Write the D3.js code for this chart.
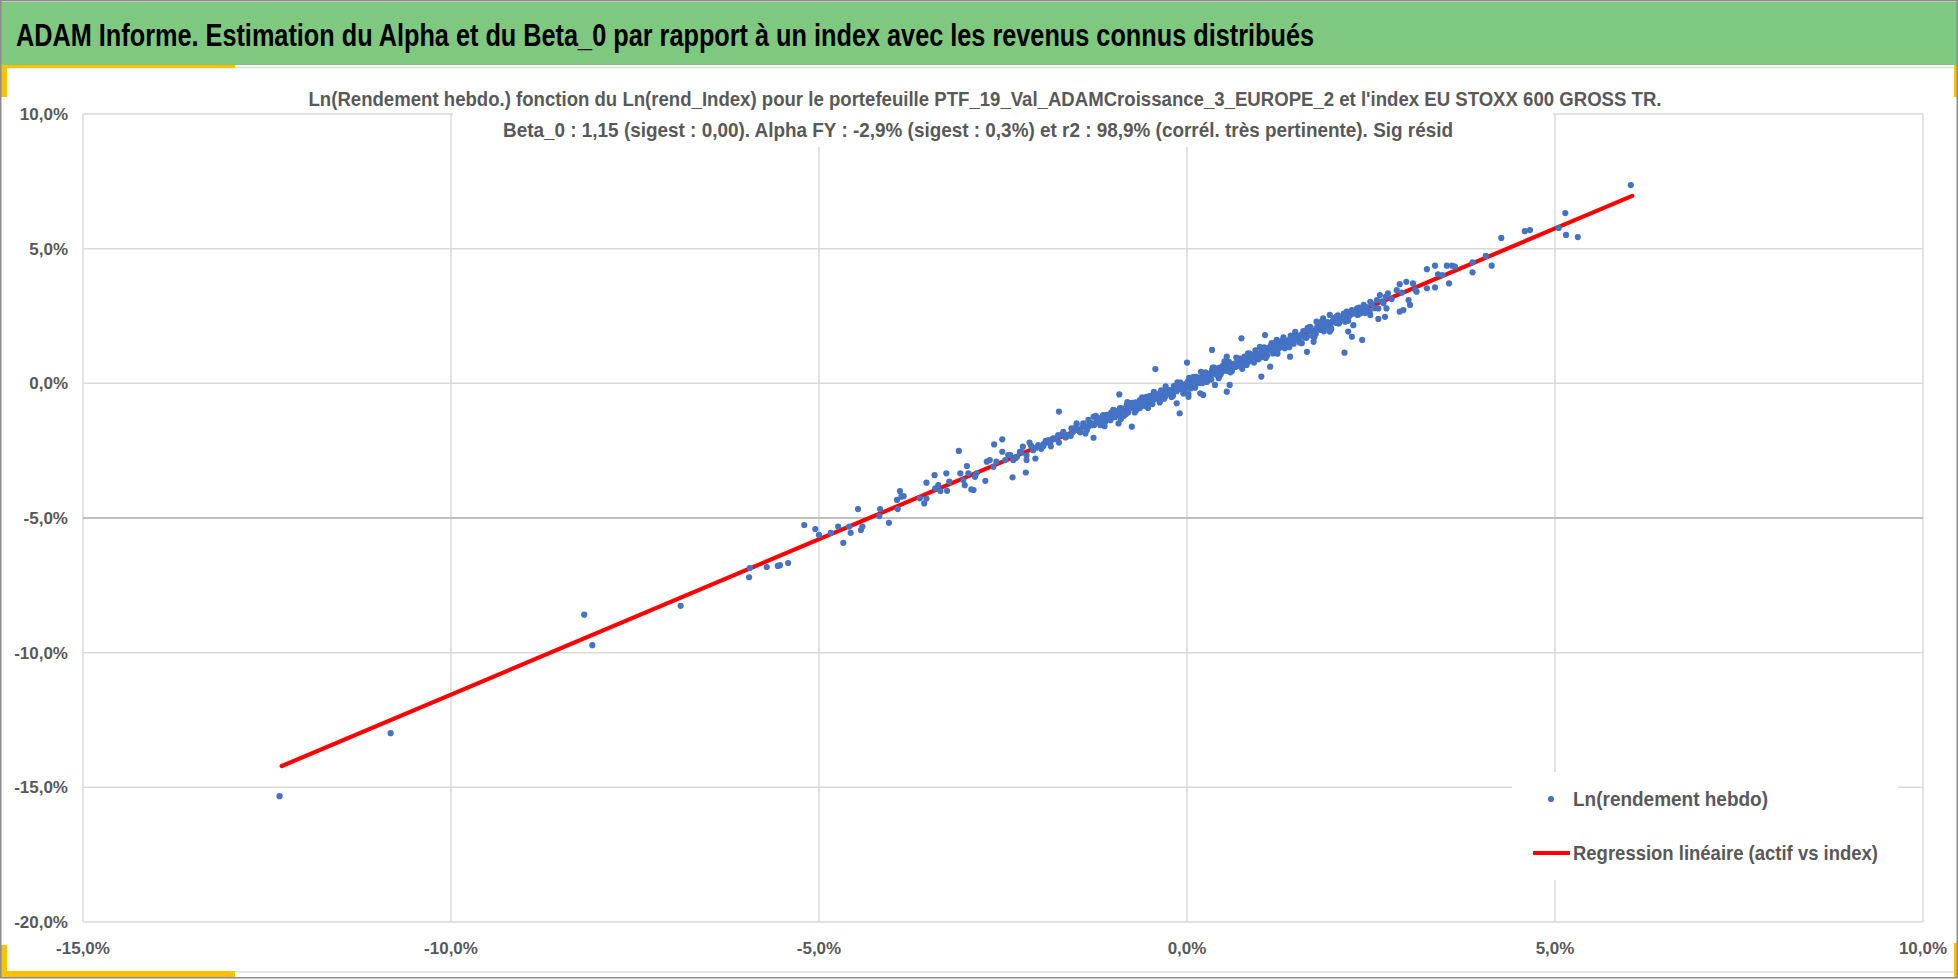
<!DOCTYPE html>
<html>
<head>
<meta charset="utf-8">
<script src="https://cdnjs.cloudflare.com/ajax/libs/d3/7.8.5/d3.min.js"></script>
<style>
  body { margin: 0; background: #fff; }
  svg { display: block; }
  svg text { font-family: "Liberation Sans Narrow", "Liberation Sans", Arial, sans-serif; }
</style>
</head>
<body>
<div id="chart"></div>
<script>
// ----- texts -----
var chartTitle = "ADAM Informe. Estimation du Alpha et du Beta_0 par rapport à un index avec les revenus connus distribués";
var subtitleLines = [
  "Ln(Rendement hebdo.) fonction du Ln(rend_Index) pour le portefeuille PTF_19_Val_ADAMCroissance_3_EUROPE_2 et l'index EU STOXX 600 GROSS TR.",
  "Beta_0 : 1,15 (sigest : 0,00). Alpha FY : -2,9% (sigest : 0,3%) et r2 : 98,9% (corrél. très pertinente). Sig résid"
];
var legendLabels = ["Ln(rendement hebdo)", "Regression linéaire (actif vs index)"];

// ----- axes (in %) -----
var xTicks = [-15, -10, -5, 0, 5, 10];
var yTicks = [10, 5, 0, -5, -10, -15, -20];

// ----- weekly log returns, [index %, portfolio %] -----
var tailPoints = [
  [-12.33, -15.33], [-10.82, -12.99], [-8.19, -8.59], [-8.08, -9.72], [-6.88, -8.26],
  [-5.95, -7.20], [-5.94, -6.86], [-5.71, -6.82], [-5.56, -6.78], [-5.53, -6.75], [-5.42, -6.67],
  [6.03, 7.36], [5.14, 6.32], [5.15, 5.51], [5.31, 5.43], [5.05, 5.77], [4.59, 5.65], [4.66, 5.69], [4.27, 5.40]
];

var lowerPoints = [
  [-5.20, -5.26], [-5.05, -5.41], [-5.00, -5.63], [-4.84, -5.55], [-4.74, -5.32], [-4.67, -5.92],
  [-4.59, -5.32], [-4.57, -5.55], [-4.47, -4.67], [-4.43, -5.45], [-4.41, -5.32], [-4.18, -4.93],
  [-4.17, -4.67], [-4.05, -5.18], [-3.94, -4.33], [-3.93, -4.67], [-3.90, -4.00], [-3.88, -4.21],
  [-3.85, -4.19], [-3.63, -4.27], [-3.57, -4.46], [-3.54, -4.28], [-3.54, -3.69], [-3.43, -3.41],
  [-3.42, -3.90], [-3.38, -3.78], [-3.35, -4.00], [-3.27, -3.34], [-3.26, -3.99], [-3.23, -3.65],
  [-3.10, -2.51], [-3.08, -3.34], [-3.04, -3.59], [-3.02, -3.78], [-2.99, -3.07], [-2.97, -3.34],
  [-2.93, -3.94], [-2.90, -3.96], [-2.88, -3.47], [-2.86, -3.34], [-2.74, -3.62], [-2.72, -2.91],
  [-2.68, -2.85], [-2.62, -2.27], [-2.63, -3.10], [-2.59, -2.91], [-2.51, -2.08], [-2.51, -2.54],
  [-2.47, -2.85], [-2.43, -2.66], [-2.37, -3.49], [-2.36, -2.85], [-2.31, -2.73], [-2.27, -2.54],
  [-2.23, -2.35], [-2.19, -3.31], [-2.18, -2.85], [-2.14, -2.20], [-2.09, -2.48], [-2.06, -2.79],
  [-2.02, -2.29], [-1.95, -2.33], [-1.88, -2.11], [-1.82, -2.04], [-1.74, -1.05], [-1.75, -1.92],
  [-1.68, -1.80], [-1.64, -1.98], [-1.57, -1.67], [-1.50, -1.49], [-1.45, -1.80], [-1.41, -1.49],
  [-1.34, -1.36], [-1.27, -2.02], [-1.27, -1.24], [-1.20, -1.43], [-1.14, -1.18], [-1.07, -1.30],
  [-1.00, -0.99], [-0.93, -1.49], [-0.92, -0.41], [-0.89, -0.93], [-0.82, -0.81], [-0.75, -1.61],
  [-0.73, -0.74], [-0.64, -0.62], [-0.55, -0.50], [-0.46, -0.43], [-0.37, -0.37], [-0.28, -0.31],
  [-0.19, -0.25], [-0.10, -1.11], [-0.14, -0.74], [0.02, -0.40]
];

var upperPoints = [
  [-0.43, 0.53], [0.00, 0.77], [0.02, -0.50], [0.18, -0.37], [0.22, -0.43], [0.38, -0.06],
  [0.34, 1.24], [0.54, -0.31], [0.58, -0.06], [0.54, 0.99], [0.74, 1.67], [1.01, 0.25],
  [1.13, 0.62], [1.06, 1.79], [1.22, 1.61], [1.31, 1.36], [1.40, 0.99], [1.63, 1.17],
  [1.72, 1.54], [1.63, 1.98], [1.67, 2.10], [1.76, 2.29], [1.85, 2.41], [1.94, 2.54],
  [2.03, 2.47], [2.14, 1.14], [2.17, 2.66], [2.24, 2.72], [2.21, 2.54], [2.19, 1.92],
  [2.24, 1.73], [2.26, 2.16], [2.38, 1.61], [2.31, 2.78], [2.40, 2.91], [2.49, 3.03],
  [2.49, 2.54], [2.60, 2.39], [2.58, 3.09], [2.62, 3.28], [2.67, 2.97], [2.69, 2.47],
  [2.71, 2.78], [2.73, 3.34], [2.85, 3.46], [2.89, 3.68], [2.89, 2.66], [2.94, 2.72],
  [2.98, 3.77], [3.01, 3.09], [3.03, 2.91], [3.07, 3.71], [3.12, 3.40], [3.26, 3.53],
  [3.26, 4.24], [3.37, 3.56], [3.37, 4.37], [3.41, 4.05], [3.47, 4.02], [3.53, 4.37],
  [3.56, 3.71], [3.60, 4.37], [3.64, 4.33], [3.88, 4.49], [3.88, 4.12], [4.06, 4.73], [4.14, 4.37]
];

var bandPointsA = [
  [-2.40, -2.66], [-2.33, -2.78], [-2.25, -2.56], [-2.18, -2.68], [-2.12, -2.31], [-2.05, -2.39],
  [-1.98, -2.43], [-1.92, -2.14], [-1.86, -2.23], [-1.80, -2.06], [-1.74, -2.20], [-1.69, -1.89],
  [-1.63, -1.92], [-1.58, -1.95], [-1.52, -1.66], [-1.47, -1.76], [-1.42, -1.63], [-1.36, -1.73],
  [-1.31, -1.47], [-1.26, -1.55], [-1.21, -1.28], [-1.16, -1.37], [-1.11, -1.43], [-1.06, -1.20],
  [-1.01, -1.24], [-0.96, -1.03], [-0.92, -1.18], [-0.87, -1.02], [-0.83, -1.14], [-0.78, -0.85],
  [-0.74, -0.91], [-0.70, -0.71], [-0.66, -0.90], [-0.62, -0.71], [-0.58, -0.76], [-0.54, -0.56],
  [-0.50, -0.75], [-0.46, -0.56], [-0.42, -0.40], [-0.38, -0.55], [-0.34, -0.36], [-0.30, -0.51],
  [-0.26, -0.31], [-0.22, -0.32], [-0.18, -0.10], [-0.14, -0.29], [-0.10, -0.11], [-0.06, -0.25],
  [-0.02, -0.04], [0.02, -0.08], [0.06, 0.14], [0.10, -0.02], [0.14, 0.15], [0.18, 0.02],
  [0.22, 0.29], [0.26, 0.25], [0.30, 0.23], [0.34, 0.49], [0.38, 0.36], [0.42, 0.50],
  [0.46, 0.36], [0.50, 0.55], [0.54, 0.70], [0.58, 0.56], [0.62, 0.71], [0.66, 0.61],
  [0.70, 0.86], [0.74, 0.78], [0.78, 0.99], [0.82, 0.81], [0.86, 0.97], [0.90, 0.86],
  [0.94, 1.11], [0.98, 1.04], [1.02, 1.23], [1.06, 1.08], [1.10, 1.27], [1.14, 1.25],
  [1.18, 1.47], [1.22, 1.24], [1.26, 1.44], [1.30, 1.39], [1.34, 1.58], [1.38, 1.40],
  [1.42, 1.60], [1.46, 1.75], [1.50, 1.63], [1.55, 1.80], [1.60, 1.70], [1.65, 1.98],
  [1.70, 1.91], [1.75, 1.84], [1.80, 2.08], [1.85, 2.05], [1.90, 2.24], [1.95, 2.12],
  [2.00, 2.29], [2.06, 2.22], [2.12, 2.47], [2.18, 2.44], [2.25, 2.66], [2.32, 2.54],
  [2.40, 2.76], [2.48, 2.67]
];

var bandPointsB = [
  [-1.95, -2.26], [-1.85, -2.34], [-1.75, -1.97], [-1.65, -2.01], [-1.55, -1.81], [-1.45, -1.82],
  [-1.40, -1.55], [-1.33, -1.58], [-1.28, -1.55], [-1.23, -1.41], [-1.18, -1.55], [-1.13, -1.27],
  [-1.08, -1.34], [-1.03, -1.09], [-0.98, -1.26], [-0.94, -1.12], [-0.89, -0.98], [-0.85, -1.07],
  [-0.80, -1.08], [-0.76, -0.86], [-0.72, -0.90], [-0.68, -0.79], [-0.64, -0.92], [-0.60, -0.66],
  [-0.56, -0.69], [-0.52, -0.72], [-0.48, -0.50], [-0.44, -0.59], [-0.40, -0.46], [-0.36, -0.61],
  [-0.32, -0.30], [-0.28, -0.41], [-0.24, -0.26], [-0.20, -0.37], [-0.16, -0.21], [-0.12, -0.09],
  [-0.08, -0.20], [-0.04, -0.05], [0.00, -0.15], [0.04, 0.08], [0.08, 0.01], [0.12, 0.24],
  [0.16, 0.07], [0.20, 0.21], [0.24, 0.11], [0.28, 0.36], [0.32, 0.30], [0.36, 0.41],
  [0.40, 0.32], [0.44, 0.58], [0.48, 0.45], [0.52, 0.57], [0.56, 0.46], [0.60, 0.71],
  [0.64, 0.70], [0.68, 0.65], [0.72, 0.92], [0.76, 0.78], [0.80, 0.93], [0.84, 0.81],
  [0.88, 1.05], [0.92, 1.00], [0.96, 1.09], [1.00, 0.96], [1.04, 1.25], [1.08, 1.16],
  [1.12, 1.31], [1.16, 1.20], [1.20, 1.35], [1.24, 1.51], [1.28, 1.37], [1.32, 1.52],
  [1.36, 1.41], [1.40, 1.65], [1.44, 1.59], [1.48, 1.80], [1.52, 1.63], [1.57, 1.79],
  [1.62, 1.69], [1.67, 1.95], [1.72, 1.89], [1.77, 2.10], [1.82, 1.98], [1.88, 2.12],
  [1.93, 2.06], [1.98, 2.32], [2.03, 2.24], [2.09, 2.40], [2.15, 2.29], [2.21, 2.51],
  [2.28, 2.67], [2.36, 2.60], [2.44, 2.83], [2.55, 2.79], [2.65, 3.04], [2.78, 3.13],
  [2.92, 3.37], [3.10, 3.47]
];

var bandPointsC = [
  [-1.50, -1.54], [-1.38, -1.86], [-1.24, -1.21], [-1.12, -1.59], [-1.00, -0.98], [-0.90, -1.33],
  [-0.81, -0.70], [-0.71, -1.08], [-0.61, -0.52], [-0.53, -0.92], [-0.45, -0.32], [-0.37, -0.71],
  [-0.29, -0.11], [-0.21, -0.51], [-0.13, 0.04], [-0.05, -0.38], [0.03, 0.20], [0.11, -0.16],
  [0.19, 0.43], [0.27, 0.05], [0.35, 0.58], [0.43, 0.19], [0.51, 0.82], [0.59, 0.41],
  [0.67, 0.96], [0.75, 0.54], [0.83, 1.11], [0.91, 0.77], [0.99, 1.35], [1.07, 0.94],
  [1.15, 1.49], [1.23, 1.10], [1.31, 1.71], [1.39, 1.34], [1.47, 1.91], [1.56, 1.49],
  [1.64, 2.06], [1.73, 1.71], [1.83, 2.29], [1.94, 1.92], [2.05, 2.52]
];

var bandPointsD = [
  [-1.22, -1.39], [-1.17, -1.46], [-1.09, -1.17], [-1.04, -1.37], [-0.97, -1.13], [-0.91, -0.92],
  [-0.86, -1.21], [-0.79, -0.95], [-0.75, -0.72], [-0.69, -1.00], [-0.63, -0.70], [-0.57, -0.84],
  [-0.51, -0.47], [-0.47, -0.77], [-0.41, -0.53], [-0.35, -0.26], [-0.31, -0.57], [-0.25, -0.25],
  [-0.19, -0.46], [-0.15, -0.19], [-0.09, 0.03], [-0.03, -0.25], [0.01, 0.06], [0.05, -0.19],
  [0.09, 0.24], [0.13, -0.02], [0.17, 0.21], [0.21, 0.01], [0.25, 0.41], [0.29, 0.24],
  [0.33, 0.14], [0.37, 0.58], [0.41, 0.43], [0.45, 0.30], [0.49, 0.67], [0.53, 0.47],
  [0.57, 0.80], [0.61, 0.46], [0.65, 0.74], [0.69, 0.92], [0.73, 0.63], [0.77, 0.92],
  [0.81, 0.68], [0.85, 1.10], [0.89, 0.91], [0.93, 1.22], [0.97, 0.89], [1.01, 1.12],
  [1.05, 1.34], [1.09, 1.03], [1.13, 1.36], [1.17, 1.11], [1.21, 1.53], [1.25, 1.29],
  [1.29, 1.58], [1.33, 1.30], [1.37, 1.57], [1.41, 1.77], [1.45, 1.47], [1.49, 1.74],
  [1.53, 1.52], [1.58, 1.94], [1.63, 1.74], [1.68, 2.07], [1.71, 1.75], [1.76, 2.00],
  [1.81, 2.21], [1.86, 1.93], [1.91, 2.27], [1.96, 2.01], [2.01, 2.43], [2.07, 2.26],
  [2.13, 2.59], [2.19, 2.32], [2.26, 2.59], [2.34, 2.81], [2.42, 2.61], [2.51, 2.95],
  [2.60, 2.78], [2.70, 3.21]
];

// fitted line (Beta_0 = 1,15), drawn between the extreme index returns
var regressionLine = [[-12.30, -14.21], [6.05, 6.96]];

function renderScatterChart() {
  // Exposed variables
  var attrs = {
    svgWidth: 1958,
    svgHeight: 980,
    marginTop: 114,
    marginBottom: 58,
    marginLeft: 83,
    marginRight: 35,
    headerColor: '#7ec87f',
    accentColor: '#ffc000',
    frameColor: '#8c8c8c',
    gridColor: '#d9d9d9',
    axisColor: '#bfbfbf',
    textColor: '#595959',
    pointColor: '#4472c4',
    lineColor: '#ff0000',
    pointRadius: 3.1,
    container: '#chart'
  };

  //Calculated properties
  var calc = {};
  calc.plotLeft = attrs.marginLeft;
  calc.plotRight = attrs.svgWidth - attrs.marginRight;
  calc.plotTop = attrs.marginTop;
  calc.plotBottom = attrs.svgHeight - attrs.marginBottom;

  var allPoints = tailPoints.concat(lowerPoints, upperPoints, bandPointsA, bandPointsB, bandPointsC, bandPointsD);

  // ########## scales #######
  var x = d3.scaleLinear()
            .domain([xTicks[0], xTicks[xTicks.length - 1]])
            .range([calc.plotLeft, calc.plotRight]);

  var y = d3.scaleLinear()
            .domain([yTicks[yTicks.length - 1], yTicks[0]])
            .range([calc.plotBottom, calc.plotTop]);

  var pct = function (v) { return v.toFixed(1).replace('.', ',') + '%'; };

  //Drawing containers
  var container = d3.select(attrs.container);
  container.html('');

  var svg = container.patternify({ tag: 'svg', selector: 'svg-chart-container' })
                     .attr('width', attrs.svgWidth)
                     .attr('height', attrs.svgHeight);

  // ##### frame & header #####
  var frame = svg.patternify({ tag: 'g', selector: 'frame' });

  frame.append('rect')
       .attr('x', 0).attr('y', 0)
       .attr('width', attrs.svgWidth).attr('height', attrs.svgHeight)
       .attr('fill', '#fff');

  frame.append('rect')
       .attr('x', 1).attr('y', 2)
       .attr('width', attrs.svgWidth - 2).attr('height', 63)
       .attr('fill', attrs.headerColor);

  frame.append('line')
       .attr('x1', 0).attr('x2', attrs.svgWidth)
       .attr('y1', 67.5).attr('y2', 67.5)
       .attr('stroke', '#dcdcdc').attr('stroke-width', 1.5);

  frame.append('line')
       .attr('x1', 0).attr('x2', attrs.svgWidth)
       .attr('y1', 972).attr('y2', 972)
       .attr('stroke', '#dcdcdc').attr('stroke-width', 1.5);

  var accents = [
    { x: 1, y: 65, w: 234, h: 3 },
    { x: 1, y: 65, w: 6, h: 32 },
    { x: 1, y: 945, w: 6, h: 31 },
    { x: 1, y: 971, w: 234, h: 6 },
    { x: 1954, y: 65, w: 3, h: 32 },
    { x: 1954, y: 943, w: 3, h: 34 }
  ];
  frame.selectAll('.accent').data(accents).enter().append('rect')
       .attr('class', 'accent')
       .attr('x', d => d.x).attr('y', d => d.y)
       .attr('width', d => d.w).attr('height', d => d.h)
       .attr('fill', attrs.accentColor);

  frame.append('rect')
       .attr('x', 0.75).attr('y', 0.75)
       .attr('width', attrs.svgWidth - 1.5).attr('height', 977)
       .attr('fill', 'none')
       .attr('stroke', attrs.frameColor).attr('stroke-width', 1.5);

  frame.append('text')
       .attr('x', 16).attr('y', 46)
       .attr('font-size', 31).attr('font-weight', 'bold')
       .attr('fill', '#000')
       .attr('textLength', 1298).attr('lengthAdjust', 'spacingAndGlyphs')
       .text(chartTitle);

  // ##### grid #####
  var grid = svg.patternify({ tag: 'g', selector: 'grid' });

  grid.selectAll('.grid-x').data(xTicks).enter().append('line')
      .attr('class', 'grid-x')
      .attr('x1', d => x(d)).attr('x2', d => x(d))
      .attr('y1', calc.plotTop).attr('y2', calc.plotBottom)
      .attr('stroke', attrs.gridColor).attr('stroke-width', 1.5);

  grid.selectAll('.grid-y').data(yTicks).enter().append('line')
      .attr('class', 'grid-y')
      .attr('x1', calc.plotLeft).attr('x2', calc.plotRight)
      .attr('y1', d => y(d)).attr('y2', d => y(d))
      .attr('stroke', d => d === -5 ? attrs.axisColor : attrs.gridColor)
      .attr('stroke-width', d => d === -5 ? 2 : 1.5);

  // ##### axis labels #####
  var axes = svg.patternify({ tag: 'g', selector: 'axes' })
                .attr('fill', attrs.textColor)
                .attr('font-size', 17)
                .attr('font-weight', 'bold');

  axes.selectAll('.y-label').data(yTicks).enter().append('text')
      .attr('class', 'y-label')
      .attr('x', calc.plotLeft - 15)
      .attr('y', d => y(d))
      .attr('dy', '0.35em')
      .attr('text-anchor', 'end')
      .text(pct);

  axes.selectAll('.x-label').data(xTicks).enter().append('text')
      .attr('class', 'x-label')
      .attr('x', d => x(d))
      .attr('y', calc.plotBottom + 26)
      .attr('dy', '0.35em')
      .attr('text-anchor', 'middle')
      .text(pct);

  // ##### chart title box #####
  var titleBox = svg.patternify({ tag: 'g', selector: 'title-box' });

  titleBox.append('rect')
          .attr('x', x(-10) + 2).attr('y', 78)
          .attr('width', x(5) - x(-10) - 4).attr('height', 69)
          .attr('fill', '#fff');

  var subtitlePos = [{ cx: 985, y: 106, w: 1353 }, { cx: 978, y: 137, w: 950 }];
  titleBox.selectAll('.subtitle').data(subtitleLines).enter().append('text')
          .attr('class', 'subtitle')
          .attr('x', (d, i) => subtitlePos[i].cx)
          .attr('y', (d, i) => subtitlePos[i].y)
          .attr('text-anchor', 'middle')
          .attr('font-size', 21).attr('font-weight', 'bold')
          .attr('fill', attrs.textColor)
          .attr('textLength', (d, i) => subtitlePos[i].w)
          .attr('lengthAdjust', 'spacingAndGlyphs')
          .text(d => d);

  // ##### marks #####
  var marks = svg.patternify({ tag: 'g', selector: 'marks' });

  marks.append('path')
       .datum(regressionLine)
       .attr('d', d3.line().x(d => x(d[0])).y(d => y(d[1])))
       .attr('fill', 'none')
       .attr('stroke', attrs.lineColor)
       .attr('stroke-width', 4.2)
       .attr('stroke-linecap', 'round');

  marks.selectAll('.point').data(allPoints).enter().append('circle')
       .attr('class', 'point')
       .attr('cx', d => x(d[0]))
       .attr('cy', d => y(d[1]))
       .attr('r', attrs.pointRadius)
       .attr('fill', attrs.pointColor);

  // ##### legend #####
  var legend = svg.patternify({ tag: 'g', selector: 'legend' });

  legend.append('rect')
        .attr('x', 1512).attr('y', 772)
        .attr('width', 386).attr('height', 108)
        .attr('fill', '#fff');

  legend.append('circle')
        .attr('cx', 1551).attr('cy', 799)
        .attr('r', attrs.pointRadius)
        .attr('fill', attrs.pointColor);

  legend.append('line')
        .attr('x1', 1533).attr('x2', 1570)
        .attr('y1', 853).attr('y2', 853)
        .attr('stroke', attrs.lineColor).attr('stroke-width', 4.2);

  var legendPos = [{ y: 799, w: 195 }, { y: 853, w: 305 }];
  legend.selectAll('.legend-label').data(legendLabels).enter().append('text')
        .attr('class', 'legend-label')
        .attr('x', 1573)
        .attr('y', (d, i) => legendPos[i].y)
        .attr('dy', '0.35em')
        .attr('font-size', 21).attr('font-weight', 'bold')
        .attr('fill', attrs.textColor)
        .attr('textLength', (d, i) => legendPos[i].w)
        .attr('lengthAdjust', 'spacingAndGlyphs')
        .text(d => d);
}

//----------- PROTOTYPE FUNCTIONS  ----------------------
d3.selection.prototype.patternify = function (params) {
  var container = this;
  var selector = params.selector;
  var elementTag = params.tag;
  var data = params.data || [selector];

  var selection = container.selectAll('.' + selector).data(data);
  selection.exit().remove();
  selection = selection.enter().append(elementTag).merge(selection);
  selection.attr('class', selector);
  return selection;
};

renderScatterChart();
</script>
</body>
</html>
